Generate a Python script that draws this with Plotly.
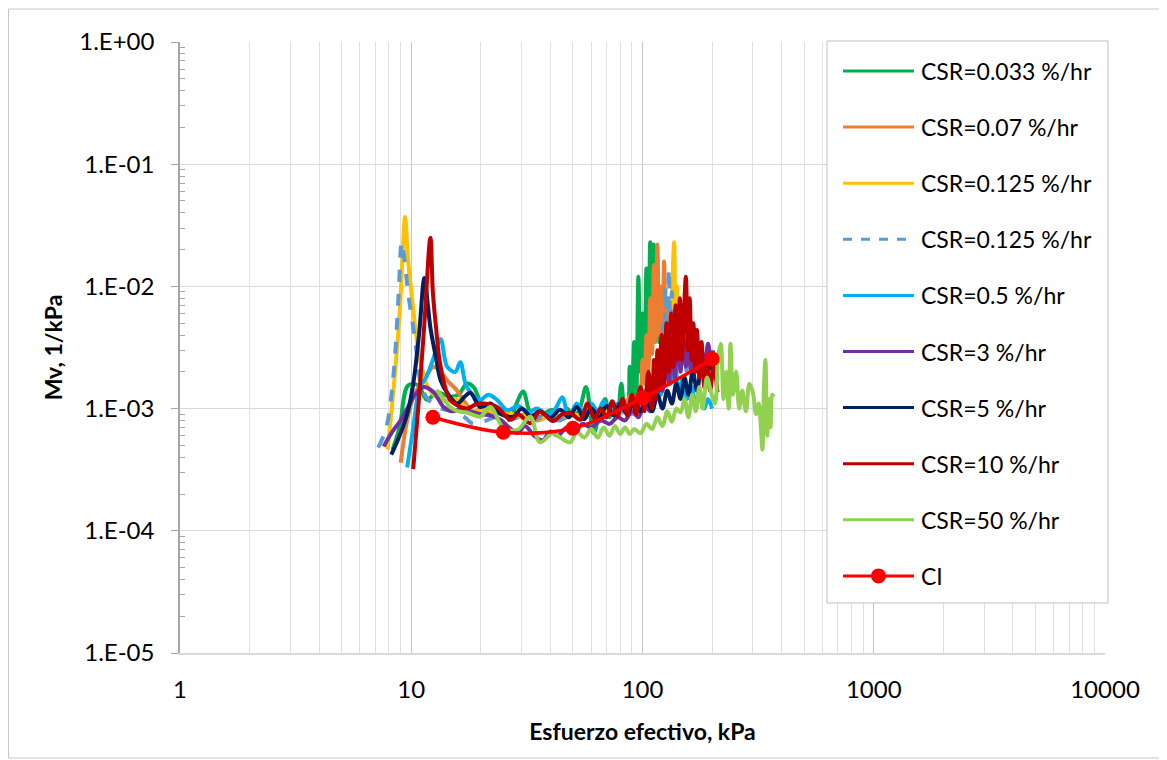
import plotly.graph_objects as go

# CSR=0.033 %/hr
green_x = [8.3, 8.9, 9.7, 10.7, 11.7, 12.9, 14.7, 16.0, 17.4, 18.6, 20.5, 23.5, 26.9, 28.5, 30.5,
           32.7, 36, 39, 41, 44, 47, 50, 53, 57, 61.5, 65, 69, 72, 75, 78, 81, 84, 86, 88, 90,
           92, 94, 96, 98, 100, 102, 104, 106, 108, 110, 112, 114, 116, 118, 121, 124]
green_y = [4.6e-4, 7.0e-4, 1.55e-3, 1.55e-3, 1.18e-3, 1.36e-3, 1.25e-3, 1.3e-3, 1.6e-3, 1.5e-3,
           1.03e-3, 9.3e-4, 8.6e-4, 1.1e-3, 1.38e-3, 9.3e-4, 8.5e-4, 9.5e-4, 9.7e-4, 8.0e-4,
           1.0e-3, 8.8e-4, 9.5e-4, 1.5e-3, 6.3e-4, 9.0e-4, 1.2e-3, 8.5e-4, 1.1e-3, 9.0e-4,
           1.6e-3, 1.0e-3, 1.0e-3, 2.2e-3, 1.1e-3, 3.5e-3, 1.3e-3, 1.2e-2, 2.0e-3, 6.0e-3,
           2.2e-3, 1.4e-2, 3.0e-3, 2.3e-2, 4.0e-3, 2.2e-2, 5.0e-3, 1.0e-2, 3.5e-3, 6.0e-3,
           3.0e-3]

# CSR=0.07 %/hr
orange_x = [9.0, 9.6, 10.3, 11.0, 11.7, 12.5, 13.4, 14.3, 15.8, 17.2, 18.6, 20, 22, 25, 28, 31,
            35, 40, 45, 50, 55, 60, 66, 72, 78, 84, 90, 95, 98, 100, 102, 104, 106, 108, 110,
            112, 114, 116, 118, 120, 122, 124, 126, 128, 130, 133, 136]
orange_y = [3.6e-4, 8.0e-4, 1.3e-3, 1.6e-3, 1.9e-3, 2.2e-3, 2.0e-3, 1.7e-3, 1.4e-3, 1.1e-3,
            9.3e-4, 1.0e-3, 8.8e-4, 9.5e-4, 8.3e-4, 9.0e-4, 8.0e-4, 8.8e-4, 8.2e-4, 9.0e-4,
            8.5e-4, 9.5e-4, 8.8e-4, 1.0e-3, 9.5e-4, 1.1e-3, 1.3e-3, 1.1e-3, 1.3e-3, 2.5e-3,
            1.6e-3, 4.0e-3, 2.0e-3, 8.0e-3, 2.8e-3, 1.5e-2, 3.5e-3, 2.2e-2, 4.0e-3, 1.0e-2,
            3.0e-3, 1.6e-2, 4.0e-3, 8.0e-3, 3.0e-3, 5.0e-3, 2.5e-3]

# CSR=0.125 %/hr
yellow_x = [7.9, 8.4, 8.9, 9.2, 9.4, 9.7, 10.1, 10.5, 10.9, 11.8, 12.8, 14, 15.5, 17, 19, 21,
            23.5, 26, 29, 32, 36, 40, 45, 50, 55, 60, 66, 72, 78, 84, 90, 96, 102, 107, 112,
            117, 122, 127, 129, 131, 133, 135, 137, 139, 141, 143, 146, 149]
yellow_y = [4.6e-4, 1.5e-3, 6.0e-3, 2.0e-2, 3.7e-2, 1.6e-2, 7.7e-3, 4.0e-3, 2.5e-3, 1.5e-3,
            1.25e-3, 1.15e-3, 1.2e-3, 1.05e-3, 9.5e-4, 1.0e-3, 9.0e-4, 9.5e-4, 8.5e-4, 9.0e-4,
            8.2e-4, 8.8e-4, 8.5e-4, 9.0e-4, 8.7e-4, 9.2e-4, 9.0e-4, 9.5e-4, 9.0e-4, 1.0e-3,
            1.1e-3, 1.0e-3, 1.3e-3, 1.6e-3, 1.2e-3, 2.0e-3, 1.6e-3, 3.0e-3, 2.0e-3, 5.0e-3,
            2.5e-3, 1.2e-2, 2.3e-2, 5.0e-3, 1.0e-2, 3.0e-3, 4.0e-3, 2.5e-3]

# CSR=0.125 %/hr (dashed)
dash_x = [7.2, 7.8, 8.4, 8.8, 9.1, 9.4, 9.7, 10.4, 11.1, 12, 13.5, 15, 17, 18.5, 20.5, 23, 26,
          30, 34, 38, 43, 48, 54, 60, 66, 72, 78, 84, 90, 96, 102, 108, 113, 116, 119, 122,
          124, 126, 128, 130, 132, 134, 136, 138, 140, 143, 146, 150, 155]
dash_y = [4.8e-4, 7.0e-4, 2.0e-3, 8.0e-3, 2.3e-2, 1.5e-2, 8.8e-3, 3.6e-3, 1.5e-3, 1.15e-3,
          1.0e-3, 9.5e-4, 8.5e-4, 7.5e-4, 7.8e-4, 8.5e-4, 8.0e-4, 8.8e-4, 8.2e-4, 8.5e-4,
          8.0e-4, 8.6e-4, 8.2e-4, 8.8e-4, 8.4e-4, 9.0e-4, 8.8e-4, 9.5e-4, 9.0e-4, 1.1e-3,
          1.0e-3, 1.4e-3, 1.2e-3, 2.4e-3, 1.8e-3, 5.0e-3, 2.5e-3, 1.0e-2, 3.0e-3, 1.4e-2,
          4.0e-3, 9.0e-3, 3.0e-3, 6.0e-3, 2.5e-3, 4.5e-3, 2.2e-3, 3.5e-3, 2.0e-3]

# CSR=0.5 %/hr
cyan_x = [9.6, 10.2, 10.9, 11.6, 12.4, 13.4, 14.3, 15.5, 16.3, 17.4, 19.9, 21.5, 23.5, 26, 29,
          31.8, 35, 39, 42, 45, 48, 52, 56, 60, 64, 68, 73, 78, 84, 90, 96, 102, 108, 114, 120,
          126, 132, 138, 144, 150, 156, 163, 170, 178, 185, 192, 200]
cyan_y = [3.3e-4, 7.0e-4, 1.5e-3, 1.8e-3, 2.5e-3, 3.7e-3, 2.2e-3, 2.0e-3, 2.4e-3, 1.5e-3,
          1.18e-3, 1.3e-3, 1.18e-3, 9.7e-4, 1.05e-3, 9.3e-4, 1.0e-3, 9.0e-4, 1.0e-3, 1.24e-3,
          8.5e-4, 1.1e-3, 9.0e-4, 1.1e-3, 9.5e-4, 1.15e-3, 9.5e-4, 1.1e-3, 1.0e-3, 1.2e-3,
          1.05e-3, 1.4e-3, 1.2e-3, 1.8e-3, 1.3e-3, 2.5e-3, 1.6e-3, 2.2e-3, 1.4e-3, 1.8e-3,
          1.2e-3, 1.5e-3, 1.1e-3, 1.3e-3, 1.0e-3, 1.2e-3, 1.0e-3]

# CSR=3 %/hr
purple_x = [7.6, 8.3, 9.0, 9.6, 10.4, 11.3, 12.5, 13.8, 15, 16.5, 18, 20, 22, 24.3, 26.5, 28.8,
            31, 34, 37, 40, 43, 47, 51, 55, 60, 66, 72, 78, 84, 90, 96, 102, 108, 114, 118, 122,
            126, 130, 134, 138, 142, 146, 150, 154, 158, 162, 168, 174, 180, 186, 192, 198, 202]
purple_y = [4.9e-4, 6.5e-4, 8.0e-4, 1.0e-3, 1.3e-3, 1.5e-3, 1.36e-3, 1.03e-3, 9.5e-4, 1.0e-3,
            9.5e-4, 9.0e-4, 8.8e-4, 8.1e-4, 7.0e-4, 6.3e-4, 7.2e-4, 6.0e-4, 5.5e-4, 6.5e-4,
            6.0e-4, 7.0e-4, 6.5e-4, 7.5e-4, 7.0e-4, 8.0e-4, 7.5e-4, 8.5e-4, 8.0e-4, 9.5e-4,
            8.5e-4, 1.1e-3, 9.5e-4, 1.3e-3, 2.2e-3, 1.4e-3, 3.0e-3, 1.6e-3, 3.5e-3, 1.8e-3,
            4.5e-3, 2.0e-3, 4.0e-3, 2.2e-3, 3.5e-3, 2.0e-3, 3.2e-3, 2.0e-3, 3.0e-3, 2.2e-3,
            3.4e-3, 2.5e-3, 3.0e-3]

# CSR=5 %/hr
navy_x = [8.2, 8.9, 9.6, 10.2, 10.8, 11.4, 11.8, 12.1, 12.8, 13.4, 14.5, 15.8, 17, 18, 19.9,
          22, 24, 27.6, 30, 33, 36, 40, 44, 48, 52, 56, 60, 65, 70, 75, 80, 86, 92, 98, 104,
          110, 116, 122, 128, 134, 140, 146, 152, 158, 165, 172, 180, 188, 196, 203]
navy_y = [4.2e-4, 6.0e-4, 9.0e-4, 1.6e-3, 4.0e-3, 1.17e-2, 7.0e-3, 4.6e-3, 2.6e-3, 1.7e-3,
          1.3e-3, 1.1e-3, 1.25e-3, 1.35e-3, 1.03e-3, 1.1e-3, 9.2e-4, 8.6e-4, 1.0e-3, 8.6e-4,
          9.5e-4, 8.4e-4, 9.8e-4, 8.5e-4, 1.03e-3, 8.2e-4, 1.0e-3, 8.5e-4, 1.05e-3, 8.8e-4,
          1.1e-3, 9.0e-4, 1.15e-3, 9.5e-4, 1.2e-3, 9.5e-4, 1.3e-3, 1.0e-3, 1.4e-3, 1.1e-3,
          1.6e-3, 1.2e-3, 1.8e-3, 1.3e-3, 2.0e-3, 1.4e-3, 2.2e-3, 1.6e-3, 2.3e-3, 2.0e-3]

# CSR=10 %/hr
red_x = [10.2, 10.8, 11.4, 12.1, 12.4, 12.8, 13.4, 14.7, 16, 17.4, 19, 20.5, 23.5, 26.9, 29,
         32.7, 36, 41, 45, 48.7, 54, 57.8, 62, 66, 70, 74, 78, 82, 86, 90, 94, 98, 102, 106, 110,
         112, 114, 116, 118, 121, 124, 127, 130, 133, 136, 139, 142, 145, 148, 151, 154, 157,
         160, 163, 166, 169, 172, 176, 180, 185, 190, 196, 203, 211]
red_y = [3.2e-4, 1.2e-3, 5.0e-3, 2.5e-2, 9.0e-3, 4.6e-3, 2.2e-3, 1.18e-3, 1.05e-3, 1.0e-3,
         1.08e-3, 1.1e-3, 1.03e-3, 8.1e-4, 9.0e-4, 7.6e-4, 9.4e-4, 7.9e-4, 9.0e-4, 9.2e-4,
         8.1e-4, 1.1e-3, 8.3e-4, 1.0e-3, 8.5e-4, 1.15e-3, 8.6e-4, 1.2e-3, 8.8e-4, 1.3e-3,
         9.0e-4, 1.5e-3, 9.5e-4, 2.0e-3, 1.0e-3, 2.5e-3, 1.2e-3, 3.0e-3, 1.4e-3, 4.0e-3,
         1.6e-3, 5.0e-3, 2.0e-3, 6.0e-3, 2.2e-3, 7.0e-3, 2.5e-3, 8.0e-3, 2.5e-3, 6.0e-3,
         1.2e-2, 3.0e-3, 8.0e-3, 2.5e-3, 5.0e-3, 2.0e-3, 4.4e-3, 1.8e-3, 3.5e-3, 1.5e-3,
         2.5e-3, 1.4e-3, 2.2e-3, 1.36e-3]

# CSR=50 %/hr
lime_x = [12.9, 13.8, 14.7, 16, 17.4, 19.9, 22, 25, 28.8, 32.7, 36, 41, 44, 48.7, 52, 56, 60,
          64, 68, 72, 76, 80, 84, 88, 92, 98, 104, 110, 116, 122, 128, 134, 140, 146, 152, 158,
          164, 170, 176, 182, 190, 198, 206, 212, 218, 224, 230, 236, 240, 246, 254, 262, 270,
          280, 290, 300, 310, 318, 325, 330, 335, 340, 346, 352, 358, 364, 370]
lime_y = [1.42e-3, 1.2e-3, 1.03e-3, 9.5e-4, 9.3e-4, 8.6e-4, 1.03e-3, 7.0e-4, 6.7e-4, 8.6e-4,
          5.3e-4, 6.3e-4, 5.8e-4, 5.3e-4, 6.5e-4, 5.8e-4, 6.8e-4, 5.8e-4, 7.0e-4, 6.0e-4,
          7.2e-4, 6.2e-4, 7.0e-4, 6.2e-4, 6.8e-4, 6.3e-4, 7.5e-4, 6.8e-4, 8.5e-4, 7.2e-4,
          9.5e-4, 7.8e-4, 1.0e-3, 9.3e-4, 1.2e-3, 8.5e-4, 1.3e-3, 9.5e-4, 1.5e-3, 1.0e-3,
          1.8e-3, 1.36e-3, 1.1e-3, 2.6e-3, 3.4e-3, 1.2e-3, 2.0e-3, 1.0e-3, 3.4e-3, 1.3e-3,
          2.0e-3, 1.0e-3, 1.4e-3, 9.5e-4, 1.6e-3, 1.36e-3, 9.0e-4, 1.1e-3, 7.0e-4, 4.6e-4,
          1.5e-3, 2.5e-3, 6.0e-4, 1.2e-3, 7.0e-4, 1.3e-3, 1.25e-3]

# CI
ci_x = [12.4, 25, 50, 100, 200]
ci_y = [8.5e-4, 6.4e-4, 6.9e-4, 1.22e-3, 2.55e-3]

series = [
    ("CSR=0.033 %/hr", green_x, green_y, "#00B050", "solid"),
    ("CSR=0.07 %/hr", orange_x, orange_y, "#ED7D31", "solid"),
    ("CSR=0.125 %/hr", yellow_x, yellow_y, "#FFC000", "solid"),
    ("CSR=0.125 %/hr", dash_x, dash_y, "#5B9BD5", "dash"),
    ("CSR=0.5 %/hr", cyan_x, cyan_y, "#00B0F0", "solid"),
    ("CSR=3 %/hr", purple_x, purple_y, "#7030A0", "solid"),
    ("CSR=5 %/hr", navy_x, navy_y, "#002060", "solid"),
    ("CSR=10 %/hr", red_x, red_y, "#C00000", "solid"),
    ("CSR=50 %/hr", lime_x, lime_y, "#92D050", "solid"),
]

FONT = "Lato, 'Open Sans', sans-serif"

fig = go.Figure()
for name, xs, ys, col, dash in series:
    fig.add_trace(go.Scatter(x=xs, y=ys, mode="lines", name=name, showlegend=False,
                             line=dict(color=col, width=4, dash=dash, shape="spline", smoothing=1)))

fig.add_trace(go.Scatter(x=ci_x, y=ci_y, mode="lines+markers", name="CI", showlegend=False,
                         line=dict(color="#FF0000", width=3.5, shape="spline", smoothing=1),
                         marker=dict(color="#FF0000", size=15)))

# page offset of the figure div (body margin)
OFF = 8
# plot area in screen pixels: x 180..1105, y 42..653
L, R, T, B = 180, 1105, 42, 653
def px(v):
    return (v - L) / (R - L)
def py(v):
    return (B - v) / (B - T)

shapes = []
annotations = []
# outer chart border
shapes.append(dict(type="rect", xref="paper", yref="paper", x0=px(8.5), x1=px(1163),
                   y0=py(758), y1=py(9), line=dict(color="#C8C8C8", width=1), layer="below"))
# legend box
shapes.append(dict(type="rect", xref="paper", yref="paper", x0=px(827), x1=px(1108),
                   y0=py(603), y1=py(41), fillcolor="white",
                   line=dict(color="#BFBFBF", width=1), layer="above"))
legend_items = [(s[0], s[3], s[4]) for s in series] + [("CI", "#FF0000", "solid")]
for i, (name, col, dash) in enumerate(legend_items):
    yy = py(71 + 56.1 * i)
    shapes.append(dict(type="line", xref="paper", yref="paper", x0=px(843), x1=px(914),
                       y0=yy, y1=yy, line=dict(color=col, width=3, dash=dash)))
    if name == "CI":
        shapes.append(dict(type="circle", xref="paper", yref="paper",
                           xsizemode="pixel", ysizemode="pixel",
                           xanchor=px(878.5), yanchor=yy, x0=-7.5, x1=7.5, y0=-7.5, y1=7.5,
                           fillcolor="#FF0000", line=dict(color="#FF0000", width=0)))
    annotations.append(dict(xref="paper", yref="paper", x=px(919), y=yy, text=name,
                            showarrow=False, xanchor="left", yanchor="middle",
                            font=dict(family=FONT, size=23, color="black")))

fig.update_layout(
    width=1167, height=760,
    margin=dict(l=L - OFF, r=1167 - R + OFF, t=T - OFF, b=760 - B + OFF),
    paper_bgcolor="white", plot_bgcolor="white",
    font=dict(family=FONT, size=24, color="black"),
    showlegend=False,
    shapes=shapes, annotations=annotations,
)

minor_x = [m * 10 ** e for e in range(0, 4) for m in range(2, 10)]
fig.update_xaxes(
    type="log", range=[0, 4],
    tickmode="array", tickvals=[1, 10, 100, 1000, 10000],
    ticktext=["1", "10", "100", "1000", "10000"],
    showgrid=True, gridcolor="#C6C6C6", gridwidth=1,
    showline=True, linecolor="#D9D9D9", linewidth=1.5,
    ticks="", ticklabelstandoff=14,
    minor=dict(tickmode="array", tickvals=minor_x, showgrid=True, gridcolor="#E0E0E0",
               gridwidth=1, ticks=""),
    title=dict(text="<b>Esfuerzo efectivo, kPa</b>", standoff=22, font=dict(size=23)),
    zeroline=False, mirror=False,
)
minor_y = [m * 10.0 ** e for e in range(-5, 0) for m in range(2, 10)]
fig.update_yaxes(
    type="log", range=[-5, 0],
    tickmode="array", tickvals=[1e-5, 1e-4, 1e-3, 1e-2, 1e-1, 1],
    ticktext=["1.E-05", "1.E-04", "1.E-03", "1.E-02", "1.E-01", "1.E+00"],
    showgrid=True, gridcolor="#D9D9D9", gridwidth=1,
    showline=True, linecolor="#A6A6A6", linewidth=1.5,
    ticks="outside", ticklen=7, tickcolor="#A6A6A6", ticklabelstandoff=12,
    minor=dict(tickmode="array", tickvals=minor_y, ticks="inside", ticklen=5,
               tickcolor="#A6A6A6", showgrid=False),
    title=dict(text="<b>Mv, 1/kPa</b>", standoff=10, font=dict(size=23)),
    zeroline=False,
)

fig.write_html("out.html")
